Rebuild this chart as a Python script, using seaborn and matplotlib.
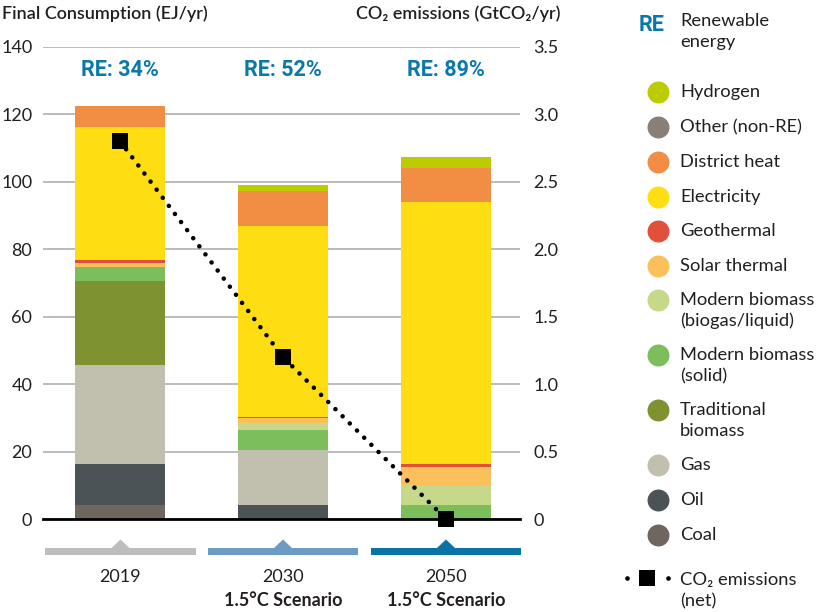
import numpy as np
import pandas as pd
import matplotlib
matplotlib.use("Agg")
import matplotlib.pyplot as plt
from matplotlib.patches import Polygon
import seaborn as sns

# ---- data -------------------------------------------------------------
years = ["2019", "2030", "2050"]
scenario_labels = ["", "1.5°C Scenario", "1.5°C Scenario"]
re_share = ["RE: 34%", "RE: 52%", "RE: 89%"]

# final consumption by carrier (EJ/yr), stacked bottom -> top
coal = [4.1, 0.0, 0.0]
oil = [12.2, 4.1, 0.0]
gas = [29.3, 16.4, 0.0]
traditional_biomass = [24.9, 0.0, 0.0]
modern_biomass_solid = [4.3, 5.9, 4.1]
modern_biomass_biogas = [0.0, 2.0, 6.0]
solar_thermal = [1.1, 1.6, 5.3]
geothermal = [0.9, 0.3, 0.9]
electricity = [39.4, 56.5, 77.7]
district_heat = [6.2, 10.4, 10.0]
other_non_re = [0.0, 0.0, 0.0]
hydrogen = [0.0, 1.8, 3.3]

# net CO2 emissions (GtCO2/yr)
co2_emissions = [2.8, 1.2, 0.0]

carrier_names = ["Coal", "Oil", "Gas", "Traditional\nbiomass", "Modern biomass\n(solid)",
                 "Modern biomass\n(biogas/liquid)", "Solar thermal", "Geothermal",
                 "Electricity", "District heat", "Other (non-RE)", "Hydrogen"]
carrier_values = [coal, oil, gas, traditional_biomass, modern_biomass_solid,
                  modern_biomass_biogas, solar_thermal, geothermal, electricity,
                  district_heat, other_non_re, hydrogen]
carrier_colors = ["#6f665d", "#4b5357", "#c1bfae", "#7f9231", "#7cbd5c", "#c6d98a",
                  "#fcc05a", "#e0503a", "#fedd12", "#f28e44", "#8a7f78", "#bdcc00"]

left_ticks = [0, 20, 40, 60, 80, 100, 120, 140]
right_ticks = [0, 0.5, 1.0, 1.5, 2.0, 2.5, 3.0, 3.5]
right_tick_labels = ["0", "0.5", "1.0", "1.5", "2.0", "2.5", "3.0", "3.5"]

band_colors = ["#bdbdbd", "#6c9cc3", "#0b73a4"]
RE_BLUE = "#0a78a8"
TEXT = "#231f20"

# ---- style ------------------------------------------------------------
sns.set_theme(style="white")
plt.rcParams["font.family"] = ["Lato", "DejaVu Sans"]
plt.rcParams["text.color"] = TEXT

W, H = 818, 612
fig = plt.figure(figsize=(W / 100, H / 100), dpi=100)

x0, x1, y_top, y_bot = 42.7, 520.0, 46.7, 519.0
ax = fig.add_axes([x0 / W, (H - y_bot) / H, (x1 - x0) / W, (y_bot - y_top) / H])

# ---- stacked bars (cumulative totals drawn from the top down) -----------
df = pd.DataFrame({"year": years})
cum = np.zeros(len(years))
cum_layers = []
for vals in carrier_values:
    cum = cum + np.array(vals)
    cum_layers.append(cum.copy())

bar_width = 90 / 163
for total, color in reversed(list(zip(cum_layers, carrier_colors))):
    df["total"] = total
    sns.barplot(data=df, x="year", y="total", color=color, saturation=1,
                width=bar_width, linewidth=0, errorbar=None, ax=ax, zorder=2)

ax.set_xlim((x0 - 120) / 163, (x1 - 120) / 163)
ax.set_ylim(0, 140)
ax.set_yticks(left_ticks)
ax.set_yticklabels([str(t) for t in left_ticks])
ax.set_xticks([])
ax.set_xlabel("")
ax.set_ylabel("")
ax.yaxis.grid(True, color="#b5b5b5", linewidth=1.3)
ax.set_axisbelow(True)
ax.tick_params(axis="y", length=0, pad=7.5, labelsize=13, labelcolor=TEXT)
for s in ["left", "right", "top"]:
    ax.spines[s].set_visible(False)
ax.spines["bottom"].set_color("black")
ax.spines["bottom"].set_linewidth(2)
ax.spines["bottom"].set_zorder(3)

for i, lab in enumerate(re_share):
    ax.text(i, 133.2, lab, ha="center", va="center", color=RE_BLUE,
            fontsize=15.5, fontweight="bold", family=["Roboto", "DejaVu Sans"],
            fontstretch="condensed")

# ---- CO2 line on secondary axis -------------------------------------------
ax2 = ax.twinx()
ax2.set_ylim(0, 3.5)
ax2.set_xlim(ax.get_xlim())
co2_df = pd.DataFrame({"x": [0, 1, 2], "co2": co2_emissions})
sns.lineplot(data=co2_df, x="x", y="co2", color="black", linewidth=3.3,
             linestyle=(0, (0.01, 2.2)), dash_capstyle="round", ax=ax2,
             clip_on=False, zorder=4)
sns.scatterplot(data=co2_df, x="x", y="co2", marker="s", s=135, color="black",
                linewidth=0, ax=ax2, clip_on=False, zorder=5)
ax2.set_yticks(right_ticks)
ax2.set_yticklabels(right_tick_labels)
ax2.tick_params(axis="y", length=0, pad=9.5, labelsize=13, labelcolor=TEXT)
ax2.set_xlabel("")
ax2.set_ylabel("")
for s in ax2.spines.values():
    s.set_visible(False)

# ---- overlay in pixel coordinates: titles, category bands, legend -------------
lax = fig.add_axes([0, 0, 1, 1], zorder=10)
lax.set_xlim(0, W)
lax.set_ylim(H, 0)
lax.axis("off")

lax.text(2, 14, "Final Consumption (EJ/yr)", ha="left", va="center",
         fontsize=13, fontweight="semibold")
lax.text(560, 14, "CO\u2082 emissions (GtCO\u2082/yr)", ha="right", va="center",
         fontsize=13, fontweight="semibold")

band_edges = [(45, 196), (208, 358), (371, 521)]
for (bx0, bx1), col, yr, scen in zip(band_edges, band_colors, years, scenario_labels):
    c = (bx0 + bx1) / 2
    poly = Polygon([(bx0, 555), (bx0, 548), (c - 9, 548), (c, 539.5),
                    (c + 9, 548), (bx1, 548), (bx1, 555)], closed=True,
                   facecolor=col, edgecolor="none")
    lax.add_patch(poly)
    lax.text(c, 577, yr, ha="center", va="center", fontsize=13)
    if scen:
        lax.text(c, 600, scen, ha="center", va="center", fontsize=13,
                 fontweight="bold")

# legend
lax.text(652, 25, "RE", ha="center", va="center", color=RE_BLUE, fontsize=15.5,
         fontweight="bold", family=["Roboto", "DejaVu Sans"], fontstretch="condensed")
lax.text(680, 21, "Renewable", ha="left", va="center", fontsize=13.2)
lax.text(680, 42, "energy", ha="left", va="center", fontsize=13.2)

legend_y = [92, 127, 162, 197, 231, 266, 300, 355, 410, 465, 500, 535]
for name, col, yy in zip(reversed(carrier_names), reversed(carrier_colors), legend_y):
    lax.scatter([658], [yy], s=250, color=col, linewidths=0)
    for k, line in enumerate(name.split("\n")):
        lax.text(680, yy + 21 * k, line, ha="left", va="center", fontsize=13.2)

lax.scatter([627, 668], [578, 578], s=11, color="black", linewidths=0)
lax.scatter([647], [578], s=125, marker="s", color="black", linewidths=0)
lax.text(680, 580, "CO\u2082 emissions", ha="left", va="center", fontsize=13.2)
lax.text(680, 601, "(net)", ha="left", va="center", fontsize=13.2)

fig.savefig("out.png", dpi=100)
